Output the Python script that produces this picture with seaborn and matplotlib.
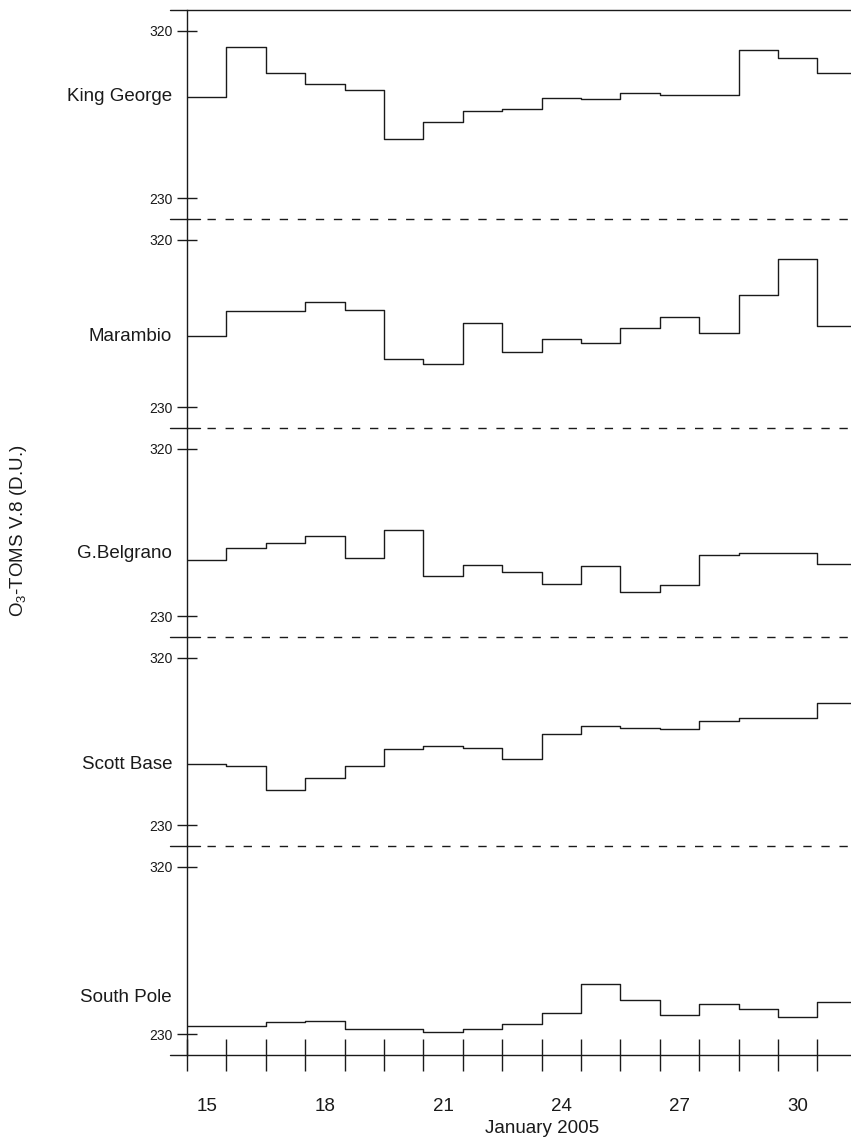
import numpy as np
import pandas as pd
import matplotlib
matplotlib.use("Agg")
import matplotlib.pyplot as plt
import matplotlib.transforms as mtransforms
import seaborn as sns

# ---------------- data ----------------
days = list(range(15, 32))
stations = ["King George", "Marambio", "G.Belgrano", "Scott Base", "South Pole"]
king_george = [284.6, 311.4, 297.0, 291.6, 287.9, 262.1, 271.2, 277.1, 277.7,
               283.6, 283.3, 286.3, 285.7, 285.2, 309.3, 305.5, 297.5]
marambio = [268.3, 281.9, 281.5, 286.5, 282.4, 255.9, 253.1, 275.5, 259.7,
            266.7, 264.3, 272.6, 278.5, 269.9, 290.5, 309.6, 273.5]
belgrano = [260.3, 266.8, 269.3, 273.3, 261.4, 276.2, 251.7, 257.7, 253.9,
            247.2, 256.9, 242.9, 247.1, 262.9, 263.8, 264.1, 258.2]
scott_base = [262.9, 262.0, 249.0, 255.5, 261.8, 271.1, 272.4, 271.3, 265.7,
              279.1, 283.4, 282.4, 281.6, 286.2, 287.8, 287.7, 295.4]
south_pole = [234.3, 234.5, 236.5, 237.4, 232.7, 233.2, 231.1, 232.9, 235.7,
              241.3, 256.9, 248.5, 240.4, 246.4, 243.5, 239.3, 247.6]
series = [king_george, marambio, belgrano, scott_base, south_pole]
label_levels = [284.6, 268.3, 263.7, 262.9, 249.8]
y_ticks = [230, 320]
x_ticklabels = [15, 18, 21, 24, 27, 30]
x_label = "January 2005"
y_label = "O$_3$-TOMS V.8 (D.U.)"

# ---------------- style ----------------
sns.set_style("ticks")
plt.rcParams["font.family"] = ["Liberation Sans", "DejaVu Sans"]
plt.rcParams["mathtext.fontset"] = "custom"
plt.rcParams["mathtext.rm"] = "Liberation Sans"
plt.rcParams["mathtext.it"] = "Liberation Sans:italic"
plt.rcParams["lines.scale_dashes"] = False

W, H = 851, 1137
fig = plt.figure(figsize=(W / 100, H / 100), dpi=100)
axes = fig.subplots(
    5, 1, sharex=True,
    gridspec_kw=dict(hspace=0, left=187 / W, right=1.0,
                     top=1 - 10 / H, bottom=1 - 1055 / H),
)

ink = "#1a1a1a"
ext = -17 / 664  # how far the horizontal rules extend left of the spine

for i, (ax, name, vals, lvl) in enumerate(zip(axes, stations, series, label_levels)):
    ax.patch.set_visible(False)
    edges = list(np.array(days, dtype=float) - 0.5) + [days[-1] + 0.5]
    yy = list(vals) + [vals[-1]]
    df = pd.DataFrame({"day": edges, "o3": yy})
    sns.lineplot(data=df, x="day", y="o3", ax=ax, drawstyle="steps-post",
                 color=ink, lw=1.0, estimator=None, legend=False)
    ax.set_xlim(14.5, 14.5 + 664 / 39.4)
    ax.set_ylim(219.0, 331.0)
    ax.set_xlabel("")
    ax.set_ylabel("")
    ax.set_yticks(y_ticks)
    ax.set_yticklabels([str(t) for t in y_ticks])
    ax.tick_params(axis="y", direction="inout", length=14.4, width=1.0,
                   labelsize=10, pad=3, color=ink, labelcolor=ink)
    for s in ("top", "right", "bottom"):
        ax.spines[s].set_visible(False)
    ax.spines["left"].set_linewidth(1.0)
    ax.spines["left"].set_color(ink)

    tr = mtransforms.blended_transform_factory(ax.transAxes, ax.transData)
    ax.text(-15 / 664, lvl, name, transform=tr, ha="right", va="center",
            fontsize=13.5, color=ink)

    if i == 0:
        ax.plot([ext, 1], [1, 1], transform=ax.transAxes, clip_on=False,
                color=ink, lw=1.0, zorder=5)
    if i < 4:
        ax.plot([ext, 13 / 664], [0, 0], transform=ax.transAxes, clip_on=False,
                color=ink, lw=1.0, zorder=5)
        ax.plot([20 / 664, 1], [0, 0], transform=ax.transAxes, clip_on=False,
                color=ink, lw=1.0, linestyle=(0, (6.0, 7.0)), zorder=5)
        ax.tick_params(axis="x", which="both", bottom=False, labelbottom=False)
    else:
        ax.plot([ext, 1], [0, 0], transform=ax.transAxes, clip_on=False,
                color=ink, lw=1.0, zorder=5)
        ax.set_xticks(list(np.arange(14.5, 31.0, 1.0)))
        ax.set_xticks(x_ticklabels, minor=True)
        ax.set_xticklabels([], minor=False)
        ax.set_xticklabels([str(d) for d in x_ticklabels], minor=True)
        ax.tick_params(axis="x", which="major", direction="inout", length=23,
                       width=1.0, color=ink)
        ax.tick_params(axis="x", which="minor", length=0, pad=31,
                       labelsize=13.5, labelcolor=ink)
        ax.set_xlabel(x_label, fontsize=13.5, color=ink)
        ax.xaxis.set_label_coords((542 - 187) / 664, -0.31)

fig.text(19 / W, 1 - 531 / H, y_label, rotation=90, ha="center", va="center",
         fontsize=13.5, color=ink)

fig.savefig("out.png", dpi=100)
